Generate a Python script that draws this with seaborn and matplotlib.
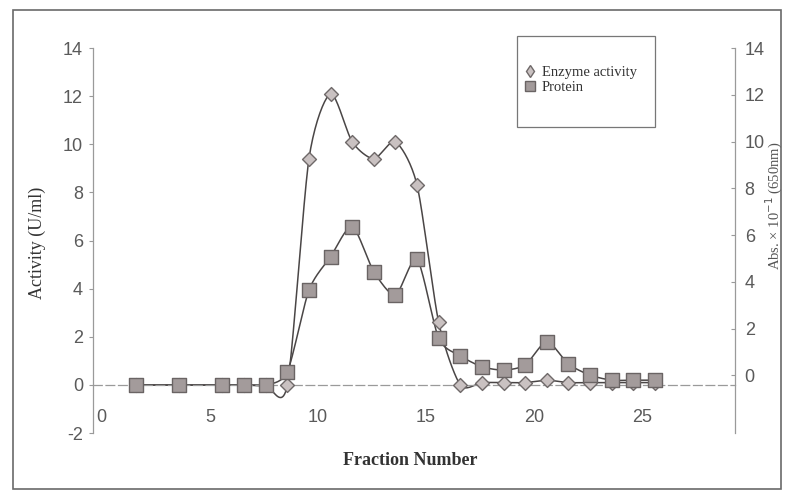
import numpy as np
import pandas as pd
import matplotlib
matplotlib.use("Agg")
import matplotlib.pyplot as plt
import matplotlib.transforms as mtransforms
from matplotlib.patches import Rectangle
from matplotlib.lines import Line2D
import seaborn as sns

# data
fraction = [2, 4, 6, 7, 8, 9, 10, 11, 12, 13, 14, 15, 16, 17, 18, 19, 20, 21, 22, 23, 24, 25, 26]
enzyme = [0, 0, 0, 0, 0, 0, 9.4, 12.1, 10.1, 9.4, 10.1, 8.3, 2.6, 0.0, 0.1, 0.1, 0.1, 0.2, 0.1, 0.1, 0.1, 0.1, 0.1]
protein = [0, 0, 0, 0, 0, 0.55, 3.94, 5.33, 6.58, 4.71, 3.74, 5.22, 1.94, 1.21, 0.76, 0.62, 0.83, 1.8, 0.87, 0.41, 0.2, 0.2, 0.2]
left_ticks = [-2, 0, 2, 4, 6, 8, 10, 12, 14]
right_ticks = [0, 2, 4, 6, 8, 10, 12, 14]
x_ticks = [0, 5, 10, 15, 20, 25]

df = pd.DataFrame({"Fraction": fraction, "Enzyme": enzyme, "Protein": protein})


def smooth(x, y, k=8, n=20):
    # Excel-style smoothed line (cubic Bezier through the points)
    x = np.asarray(x, float)
    y = np.asarray(y, float)
    px, py = [], []
    for i in range(len(x) - 1):
        i0, i3 = max(i - 1, 0), min(i + 2, len(x) - 1)
        c1x = x[i] + (x[i + 1] - x[i0]) / k
        c1y = y[i] + (y[i + 1] - y[i0]) / k
        c2x = x[i + 1] - (x[i3] - x[i]) / k
        c2y = y[i + 1] - (y[i3] - y[i]) / k
        t = np.linspace(0, 1, n, endpoint=False)
        px.extend((1 - t) ** 3 * x[i] + 3 * (1 - t) ** 2 * t * c1x + 3 * (1 - t) * t ** 2 * c2x + t ** 3 * x[i + 1])
        py.extend((1 - t) ** 3 * y[i] + 3 * (1 - t) ** 2 * t * c1y + 3 * (1 - t) * t ** 2 * c2y + t ** 3 * y[i + 1])
    px.append(x[-1])
    py.append(y[-1])
    return pd.DataFrame({"x": px, "y": py})


sns.set_theme(style="white")
plt.rcParams['font.family'] = ['Liberation Sans', 'DejaVu Sans']
plt.rcParams['axes.unicode_minus'] = False

fig = plt.figure(figsize=(7.87, 4.95), dpi=100)
ax = fig.add_axes([0.1178, 0.125, 0.8161, 0.778])

line_col = "#4a4646"
sq_face, sq_edge = "#a39b9b", "#6a6464"
dm_face, dm_edge = "#c9c1c1", "#6f6969"

pe = smooth(df["Fraction"], df["Protein"])
sns.lineplot(data=pe, x="x", y="y", ax=ax, color=line_col, lw=1.1, sort=False, estimator=None)
ee = smooth(df["Fraction"], df["Enzyme"])
sns.lineplot(data=ee, x="x", y="y", ax=ax, color=line_col, lw=1.1, sort=False, estimator=None)

sns.scatterplot(data=df, x="Fraction", y="Enzyme", ax=ax, marker="D", s=50,
                color=dm_face, edgecolor=dm_edge, linewidth=1.0, zorder=4)
sns.scatterplot(data=df, x="Fraction", y="Protein", ax=ax, marker="s", s=110,
                color=sq_face, edgecolor=sq_edge, linewidth=1.0, zorder=5)

ax.set_xlim(0, 29.7)
ax.set_ylim(-2, 14)
ax.set_xticks(x_ticks)
ax.set_yticks(left_ticks)
ax.set_xlabel("")
ax.set_ylabel("")

ax.spines["top"].set_visible(False)
ax.spines["bottom"].set_position(("data", 0))
ax.spines["bottom"].set_color("#9a9a9a")
ax.spines["bottom"].set_linestyle((0, (7, 3)))
ax.spines["bottom"].set_linewidth(0.9)
ax.spines["left"].set_color("#9a9a9a")
ax.spines["left"].set_linewidth(0.9)
ax.spines["right"].set_visible(False)

ax.tick_params(axis="x", direction="out", length=4, width=0.8, color="#9a9a9a",
               pad=13, labelsize=13, labelcolor="#5a5a5a")
ax.tick_params(axis="y", direction="out", length=3, width=0.8, color="#9a9a9a",
               pad=4, labelsize=13, labelcolor="#5a5a5a", left=True)

# x labels sit a little to the right of their tick marks in the original
shift = mtransforms.ScaledTranslation(9 / 100, 0, fig.dpi_scale_trans)
for lab in ax.get_xticklabels():
    lab.set_transform(lab.get_transform() + shift)

# right axis (absorbance)
ax2 = ax.twinx()
ax2.set_ylim(-2.47, 14.0)
ax2.set_yticks(right_ticks)
for s in ["top", "bottom", "left"]:
    ax2.spines[s].set_visible(False)
ax2.spines["right"].set_color("#9a9a9a")
ax2.spines["right"].set_linewidth(0.9)
ax2.tick_params(axis="y", direction="in", length=3, width=0.8, color="#9a9a9a",
                pad=7, labelsize=13, labelcolor="#5a5a5a", right=True)
ax2.grid(False)

serif = ['Liberation Serif', 'DejaVu Serif']
fig.text(0.047, 0.51, "Activity (U/ml)", rotation=90, ha="center", va="center",
         family=serif, fontsize=13, color="#333333")
fig.text(0.521, 0.07, "Fraction Number", ha="center", va="center",
         family=serif, fontsize=13, fontweight="bold", color="#333333")
fig.text(0.984, 0.585, "Abs. \u00d7 10$^{-1}$ (650nm)", rotation=90, ha="center", va="center",
         family=serif, fontsize=10.5, color="#555555")

# legend box
ax.add_patch(Rectangle((0.66, 0.795), 0.215, 0.235, transform=ax.transAxes,
                       fill=False, edgecolor="#777777", lw=0.9, clip_on=False, zorder=6))
handles = [
    Line2D([], [], ls="none", marker="d", ms=6, mfc=dm_face, mec=dm_edge),
    Line2D([], [], ls="none", marker="s", ms=7, mfc=sq_face, mec=sq_edge),
]
leg = ax.legend(handles, ["Enzyme activity", "Protein"], loc="upper left",
                bbox_to_anchor=(0.663, 0.97), frameon=False, handlelength=0.8,
                handletextpad=0.4, labelspacing=0.15, borderaxespad=0,
                prop={"family": serif, "size": 10.5})
for t in leg.get_texts():
    t.set_color("#333333")

# scanned page border
fig.patches.append(Rectangle((0.016, 0.012), 0.976, 0.968, transform=fig.transFigure,
                             fill=False, edgecolor="#6a6a6a", lw=1.2))

fig.savefig("out.png", dpi=100)
